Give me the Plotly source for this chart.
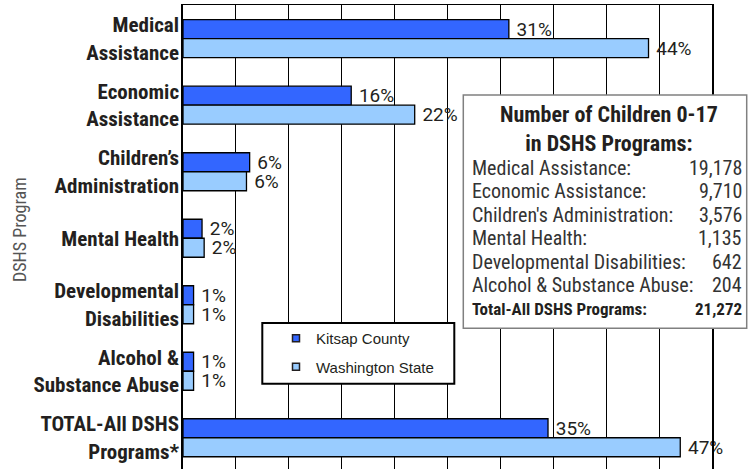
import plotly.graph_objects as go

# ---- data ----
categories = ["Medical<br>Assistance", "Economic<br>Assistance", "Children’s<br>Administration",
              "Mental Health", "Developmental<br>Disabilities", "Alcohol &<br>Substance Abuse",
              "TOTAL-All DSHS<br>Programs*"]
kitsap = [30.8, 15.9, 6.3, 1.8, 1.0, 1.0, 34.5]
washington = [44.0, 21.9, 6.0, 2.0, 1.0, 1.0, 47.0]
kitsap_labels = ["31%", "16%", "6%", "2%", "1%", "1%", "35%"]
washington_labels = ["44%", "22%", "6%", "2%", "1%", "1%", "47%"]
series_names = ["Kitsap County", "Washington State"]

box_title = "Number of Children 0-17<br>in DSHS Programs:"
box_programs = ["Medical Assistance:", "Economic Assistance:", "Children's Administration:",
                "Mental Health:", "Developmental Disabilities:", "Alcohol & Substance Abuse:"]
box_counts = ["19,178", "9,710", "3,576", "1,135", "642", "204"]
box_total_label = "Total-All DSHS Programs:"
box_total_count = "21,272"

# ---- style ----
W, H = 755, 469
ML, MR, MT, MB = 183, 43, 5, 0
PW, PH = W - ML - MR, H - MT - MB
NARROW = "Roboto Condensed, Liberation Sans Narrow, Arial Narrow, sans-serif"
LABEL = "Roboto, Liberation Sans, Arial, sans-serif"
ARIAL = "Liberation Sans, Arial, sans-serif"
DARK = "#231f20"
C_K, C_W = "#3366ff", "#99ccff"

def px(x):
    return (x - ML) / PW

def py(y):
    return 1 - (y - MT) / PH

fig = go.Figure()
for vals, labs, col, nm in [(kitsap, kitsap_labels, C_K, series_names[0]),
                            (washington, washington_labels, C_W, series_names[1])]:
    fig.add_trace(go.Bar(
        y=categories, x=vals, orientation="h", name=nm, showlegend=False,
        marker=dict(color=col, line=dict(color="black", width=1.3)),
        text=[" " + t for t in labs], textposition="outside",
        textfont=dict(family=LABEL, size=19, color=DARK),
        cliponaxis=False, constraintext="none", hoverinfo="skip",
    ))
# legend entries
for col, nm, g in [(C_K, series_names[0], "a"), (C_W, series_names[1], "b")]:
    fig.add_trace(go.Scatter(
        x=[None], y=[None], mode="markers", name=nm, legendgroup=g,
        marker=dict(symbol="square", size=7, color=col, line=dict(color=DARK, width=1.5)),
    ))

shapes = [
    dict(type="rect", xref="paper", yref="paper", x0=px(262.3), x1=px(454.3), y0=py(383.7), y1=py(323),
         line=dict(color="black", width=2), fillcolor="white", layer="above"),
    dict(type="rect", xref="paper", yref="paper", x0=px(463.3), x1=px(746.7), y0=py(328.3), y1=py(95),
         line=dict(color="#808080", width=1.5), fillcolor="white", layer="above"),
]

annotations = [
    dict(text="DSHS Program", textangle=-90, xref="paper", yref="paper", x=px(19), y=py(230),
         showarrow=False, font=dict(family=NARROW, size=18, color="#555555"),
         xanchor="center", yanchor="middle"),
    dict(text=box_title, xref="paper", yref="paper", x=px(609), y=py(128.5), showarrow=False,
         font=dict(family=NARROW, size=22, color=DARK, weight="bold"), xanchor="center", yanchor="middle"),
]
row_y = [167.5, 191, 214.5, 238, 261.5, 285]
for lab, cnt, yy in zip(box_programs, box_counts, row_y):
    annotations.append(dict(text=lab, xref="paper", yref="paper", x=px(469.5), y=py(yy), showarrow=False,
                            font=dict(family=NARROW, size=20, color="#333333"), xanchor="left", yanchor="middle"))
    annotations.append(dict(text=cnt, xref="paper", yref="paper", x=px(744), y=py(yy), showarrow=False,
                            font=dict(family=NARROW, size=20, color="#333333"), xanchor="right", yanchor="middle"))
annotations.append(dict(text=box_total_label, xref="paper", yref="paper", x=px(469.5), y=py(309), showarrow=False,
                        font=dict(family=NARROW, size=17, color=DARK, weight="bold"), xanchor="left", yanchor="middle"))
annotations.append(dict(text=box_total_count, xref="paper", yref="paper", x=px(744), y=py(309), showarrow=False,
                        font=dict(family=NARROW, size=17, color=DARK, weight="bold"), xanchor="right", yanchor="middle"))

fig.update_layout(
    width=W, height=H, margin=dict(l=ML, r=MR, t=MT, b=MB, autoexpand=False),
    paper_bgcolor="white", plot_bgcolor="white",
    barmode="group", bargap=0.4286, bargroupgap=0,
    xaxis=dict(range=[0, 50], dtick=5, showgrid=True, gridcolor="black", gridwidth=1,
               side="top", showline=True, linecolor="black", linewidth=1,
               showticklabels=False, ticks="", zeroline=False, fixedrange=True),
    yaxis=dict(type="category", categoryorder="array", categoryarray=categories,
               range=[6.47, -0.507], showline=True, mirror=True, linecolor="black", linewidth=1.5,
               ticks="", showgrid=False, zeroline=False, ticklabelstandoff=-2, fixedrange=True,
               tickfont=dict(family=NARROW, size=21, color=DARK, weight="bold")),
    showlegend=True,
    legend=dict(x=px(276), y=py(322), xanchor="left", yanchor="top", bgcolor="rgba(0,0,0,0)",
                borderwidth=0, font=dict(family=ARIAL, size=15, color=DARK),
                traceorder="grouped", tracegroupgap=6, itemclick=False, itemdoubleclick=False),
    shapes=shapes, annotations=annotations,
)

fig.write_html("out.html", config={"displayModeBar": False},
               post_script="document.body.style.margin='0';")
